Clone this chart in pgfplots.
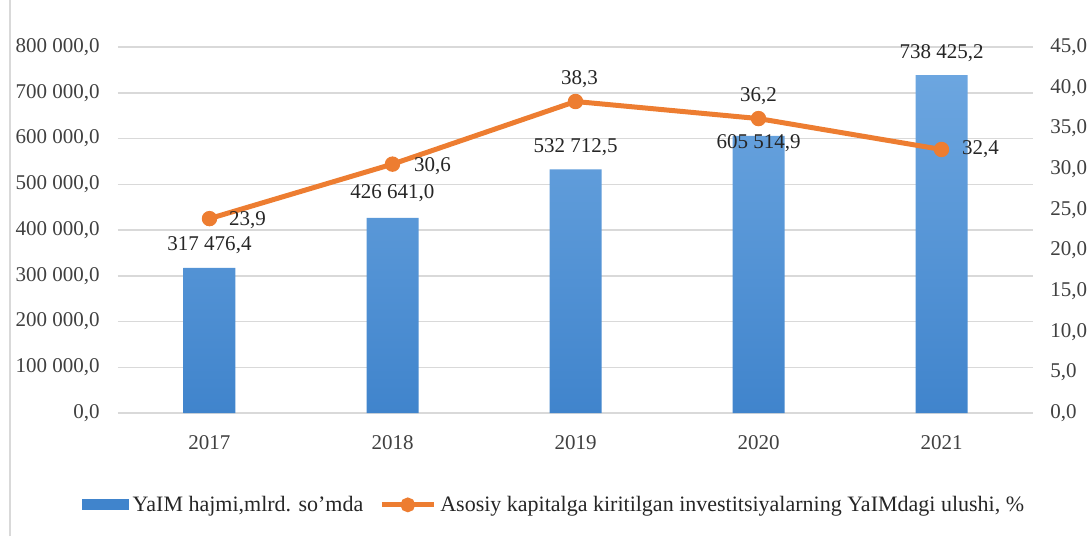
\documentclass[border=0pt]{standalone}
\usepackage{fontspec}
\setmainfont{Liberation Serif}
\usepackage{pgfplots}
\usepackage{pgfplotstable}
\pgfplotsset{compat=1.18}
\definecolor{barTop}{RGB}{108,166,224}
\definecolor{barBot}{RGB}{64,132,204}
\definecolor{lineOr}{RGB}{237,125,49}
\definecolor{gridc}{RGB}{217,217,217}
\definecolor{tickc}{RGB}{64,64,64}

\pgfplotstableread{
x gdp dy
0 317476.4 11.5
1 426641.0 12.5
2 532712.5 11
3 605514.9 -3.5
4 738425.2 11
}\gdptable

\pgfplotstableread{
x share dx dy
0 23.9 19 -1
1 30.6 20 -1
2 38.3 2 11
3 36.2 0 11
4 32.4 19.5 0
}\sharetable

\begin{document}
\begin{tikzpicture}
\useasboundingbox (-59pt,-61.5pt) rectangle (487pt,206.5pt);
\draw[gridc, line width=0.6pt] (-54pt,-61.5pt) -- (-54pt,206.5pt);
\begin{axis}[
  at={(0,0)}, anchor=south west,
  scale only axis, width=457.5pt, height=183pt,
  xmin=-0.5, xmax=4.5, ymin=0, ymax=800000,
  xtick={0,...,4}, xticklabels={2017,2018,2019,2020,2021},
  ytick={0,100000,...,800000},
  yticklabels={{0,0},{100 000,0},{200 000,0},{300 000,0},{400 000,0},{500 000,0},{600 000,0},{700 000,0},{800 000,0}},
  scaled y ticks=false,
  axis line style={draw=none},
  major tick length=0pt,
  ymajorgrids, grid style={gridc, line width=0.75pt},
  tick label style={font=\fontsize{10.5}{12}\selectfont, text=tickc, inner sep=0pt},
  yticklabel style={anchor=east, xshift=-9pt},
  xticklabel style={anchor=center, yshift=-15pt},
  /pgf/number format/assume math mode=true,
  clip=false,
]
\addplot[ybar, bar width=26pt, draw=none, top color=barTop, bottom color=barBot,
  visualization depends on={\thisrow{dy} \as \dy},
  nodes near coords={\pgfmathprintnumber[fixed, fixed zerofill, precision=1, use comma, 1000 sep={\ }]{\pgfplotspointmeta}},
  every node near coord/.append style={anchor=center, yshift=\dy pt, font=\fontsize{10.5}{12}\selectfont, text=black!85, inner sep=0pt},
] table[x=x, y=gdp] {\gdptable};
\end{axis}
\begin{axis}[
  at={(0,0)}, anchor=south west,
  scale only axis, width=457.5pt, height=183pt,
  xmin=-0.5, xmax=4.5, ymin=0, ymax=45,
  axis x line=none, axis y line*=right,
  axis line style={draw=none},
  ytick={0,5,...,45},
  yticklabels={{0,0},{5,0},{10,0},{15,0},{20,0},{25,0},{30,0},{35,0},{40,0},{45,0}},
  major tick length=0pt,
  tick label style={font=\fontsize{10.5}{12}\selectfont, text=tickc, inner sep=0pt},
  yticklabel style={anchor=west, xshift=8.5pt},
  /pgf/number format/assume math mode=true,
  clip=false,
  legend columns=2,
  legend style={at={(0.4776,-0.251)}, anchor=center, draw=none, fill=none,
    font=\fontsize{11}{13}\selectfont, text=black!85,
    /tikz/every even column/.append style={column sep=6pt}},
]
\addlegendimage{legend image code/.code={\fill[barBot] (0pt,-2.5pt) rectangle (23pt,2.5pt);}}
\addlegendentry{YaIM hajmi,mlrd. so'mda}
\addplot[lineOr, line width=2.5pt, mark=*, mark size=3.6pt, mark options={fill=lineOr, draw=lineOr, line width=0.5pt},
  legend image code/.code={\draw[lineOr, line width=2.5pt] (0pt,0pt) -- (26pt,0pt); \fill[lineOr] (13pt,0pt) circle (2.4pt);},
  visualization depends on={\thisrow{dx} \as \dx},
  visualization depends on={\thisrow{dy} \as \ddy},
  nodes near coords={\pgfmathprintnumber[fixed, fixed zerofill, precision=1, use comma]{\pgfplotspointmeta}},
  every node near coord/.append style={anchor=center, xshift=\dx pt, yshift=\ddy pt, font=\fontsize{10.5}{12}\selectfont, text=black!85, inner sep=0pt},
] table[x=x, y=share] {\sharetable};
\addlegendentry{Asosiy kapitalga kiritilgan investitsiyalarning YaIMdagi ulushi, \%}
\end{axis}
\end{tikzpicture}
\end{document}
